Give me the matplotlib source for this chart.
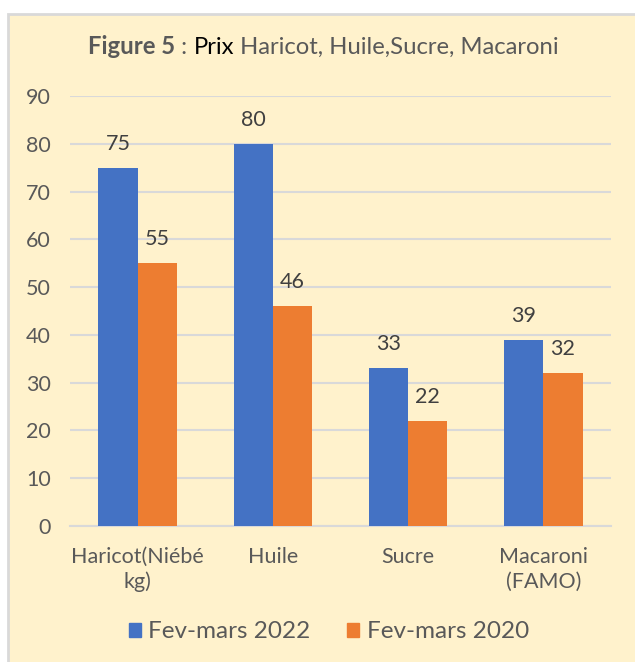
import matplotlib
matplotlib.use("Agg")
import matplotlib.pyplot as plt
from matplotlib.patches import Rectangle, Patch
import numpy as np

categories = ["Haricot(Niébé\nkg)", "Huile", "Sucre", "Macaroni\n(FAMO)"]
series_names = ["Fev-mars 2022", "Fev-mars 2020"]
values_2022 = [75, 80, 33, 39]
values_2020 = [55, 46, 22, 32]

blue = "#4472C4"
orange = "#ED7D31"
text_col = "#595959"
grid_col = "#D9D9D9"
bg = "#FFF2CC"

plt.rcParams["font.family"] = ["Lato", "DejaVu Sans"]

fig = plt.figure(figsize=(6.35, 6.62), dpi=100, facecolor="white")

# cream box behind the chart
box = Rectangle((8 / 635, -0.01), 1.0, 1 - 14 / 662 + 0.01, transform=fig.transFigure,
                facecolor=bg, edgecolor=grid_col, linewidth=2, zorder=-10)
fig.patches.append(box)

ax = fig.add_axes([70 / 635, 1 - 526 / 662, (611 - 70) / 635, (526 - 96) / 662])
ax.set_facecolor("none")

x = np.arange(len(categories))
w = 0.29
b1 = ax.bar(x - w / 2, values_2022, w, color=blue, label=series_names[0], zorder=3)
b2 = ax.bar(x + w / 2, values_2020, w, color=orange, label=series_names[1], zorder=3)
ax.bar_label(b1, padding=10, fontsize=15.5, color="#404040")
ax.bar_label(b2, padding=10, fontsize=15.5, color="#404040")

ax.set_xlim(-0.5, len(categories) - 0.5)
ax.set_ylim(0, 90)
ax.set_yticks(range(0, 91, 10))
ax.yaxis.grid(True, color=grid_col, linewidth=1.5, zorder=0)
ax.set_axisbelow(True)
for s in ["top", "right", "left"]:
    ax.spines[s].set_visible(False)
ax.spines["bottom"].set_color(grid_col)
ax.spines["bottom"].set_linewidth(1.5)
ax.set_xticks(x)
ax.set_xticklabels(categories, fontsize=15.5, color=text_col, linespacing=1.3)
ax.tick_params(axis="both", length=0, labelsize=15.5, labelcolor=text_col)
ax.tick_params(axis="y", pad=14)
ax.tick_params(axis="x", pad=15)

# title in three pieces
fig.canvas.draw()
r = fig.canvas.get_renderer()
ty = 1 - 47 / 662
t1 = fig.text(88 / 635, ty, "Figure 5", fontsize=17.2, fontweight="bold", color=text_col, va="center")
ext = t1.get_window_extent(r)
t2 = fig.text(ext.x1 / 635, ty, " : ", fontsize=17.2, color=text_col, va="center")
ext = t2.get_window_extent(r)
t3 = fig.text(ext.x1 / 635, ty, "Prix", fontsize=17.2, color="black", va="center")
ext = t3.get_window_extent(r)
fig.text(ext.x1 / 635, ty, " Haricot, Huile,Sucre, Macaroni", fontsize=17.2, color=text_col, va="center")

handles = [Patch(color=blue), Patch(color=orange)]
fig.legend(handles, series_names, loc="center", bbox_to_anchor=(0.518, 1 - 632 / 662), ncol=2,
           frameon=False, fontsize=17.5, labelcolor=text_col, handlelength=0.5, handleheight=0.5,
           handletextpad=0.3, columnspacing=1.5)

fig.savefig("out.png", dpi=100, facecolor="white")
